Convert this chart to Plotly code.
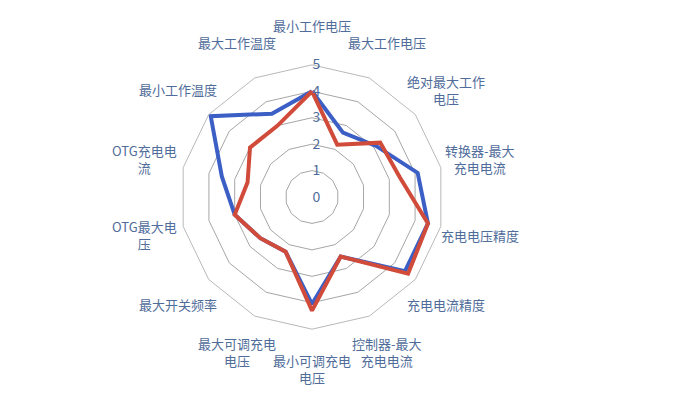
import math
import plotly.graph_objects as go

# 雷达图的类别和两组数据
categories = ['最小工作电压', '最大工作电压', '绝对最大工作<br>电压', '转换器-最大<br>充电电流',
              '充电电压精度', '充电电流精度', '控制器-最大<br>充电电流', '最小可调充电<br>电压',
              '最大可调充电<br>电压', '最大开关频率', 'OTG最大电<br>压', 'OTG充电电<br>流',
              '最小工作温度', '最大工作温度']
blue_vals = [4, 2.7, 3.1, 4.1, 4.5, 4.5, 2.5, 4.05, 2.3, 2.5, 3.0, 3.5, 4.9, 3.5]
red_vals = [4, 2.2, 3.3, 3.4, 4.5, 4.65, 2.5, 4.3, 2.3, 2.5, 3.0, 2.5, 3.0, 3.0]

label_color = '#4f6c9a'
font_name = 'Noto Sans CJK SC'
W, H = 700, 411

# 极坐标区域（中心和半宽）
cx, cy = 0.4343, 0.5401
hw, hh = 0.1888, 0.3216

fig = go.Figure()

# 闭合多边形
fig.add_trace(go.Scatterpolar(
    r=blue_vals + blue_vals[:1],
    theta=categories + categories[:1],
    mode='lines',
    line=dict(color='#3c5fc6', width=4),
    showlegend=False
))
fig.add_trace(go.Scatterpolar(
    r=red_vals + red_vals[:1],
    theta=categories + categories[:1],
    mode='lines',
    line=dict(color='#d14b3b', width=4),
    showlegend=False
))

# 类别标签：像Excel一样把文字中心放在一个圆上
label_r = 172
annotations = []
for i, name in enumerate(categories):
    a = math.radians(360 / len(categories) * i)
    annotations.append(dict(
        text=name, xref='paper', yref='paper',
        x=cx + label_r * math.sin(a) / W,
        y=cy + label_r * math.cos(a) / H,
        xanchor='center', yanchor='middle',
        showarrow=False, align='center',
        font=dict(size=13, color=label_color)
    ))

fig.update_layout(
    width=W, height=H,
    margin=dict(l=0, r=0, t=0, b=0),
    paper_bgcolor='white',
    plot_bgcolor='white',
    font=dict(family=font_name, size=13, color=label_color),
    annotations=annotations,
    polar=dict(
        domain=dict(x=[cx - hw, cx + hw], y=[cy - hh, cy + hh]),
        bgcolor='white',
        gridshape='linear',
        radialaxis=dict(
            range=[0, 5], dtick=1, angle=90, tickangle=90,
            side='clockwise',
            showline=False, ticks='',
            gridcolor='#a6a6a6', gridwidth=0.8,
            tickfont=dict(size=14, color=label_color)
        ),
        angularaxis=dict(
            direction='clockwise', rotation=90,
            showgrid=False, showline=True, linecolor='#a6a6a6', linewidth=0.8,
            showticklabels=False, ticks=''
        )
    )
)

fig.write_html("out.html")
